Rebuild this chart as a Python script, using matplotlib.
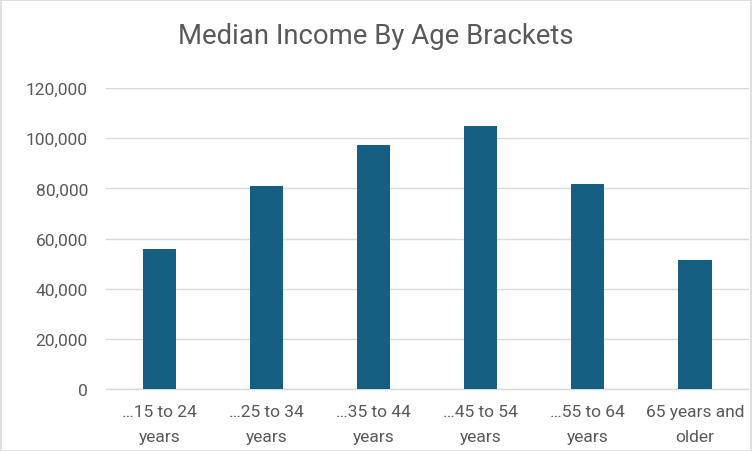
import matplotlib.pyplot as plt
from matplotlib.ticker import FuncFormatter
from matplotlib.patches import Rectangle

plt.rcParams['font.family'] = ['Roboto', 'DejaVu Sans']

categories = ['\u202615 to 24\nyears', '\u202625 to 34\nyears', '\u202635 to 44\nyears',
              '\u202645 to 54\nyears', '\u202655 to 64\nyears', '65 years and\nolder']
income = [55800, 80900, 97300, 104800, 81700, 51400]

text_color = '#595959'
line_color = '#D9D9D9'

fig = plt.figure(figsize=(7.52, 4.52), dpi=100)
ax = fig.add_axes([106 / 752, 62 / 452, 642.5 / 752, 301 / 452])

xs = list(range(len(categories)))
ax.bar(xs, income, width=0.31, color='#156082', zorder=3)

ax.set_xlim(-0.5, len(categories) - 0.5)
ax.set_ylim(0, 120000)
ax.set_yticks(range(0, 120001, 20000))
ax.yaxis.set_major_formatter(FuncFormatter(lambda v, p: f'{int(v):,}'))
ax.set_xticks(xs)
ax.set_xticklabels(categories, linespacing=1.8)

ax.grid(axis='y', color=line_color, linewidth=1.0, zorder=0)
for s in ['top', 'right', 'left']:
    ax.spines[s].set_visible(False)
ax.spines['bottom'].set_color(line_color)
ax.spines['bottom'].set_linewidth(1.0)
ax.tick_params(axis='both', length=0, colors=text_color, labelsize=12.5)
ax.tick_params(axis='y', pad=13)
ax.tick_params(axis='x', pad=11)

fig.text(0.5, 1 - 37 / 452, 'Median Income By Age Brackets', ha='center', va='center',
         fontsize=19.8, color=text_color)

# outer chart border
fig.patches.append(Rectangle((0.5 / 752, 0.5 / 452), 750.5 / 752, 450.5 / 452,
                             transform=fig.transFigure, fill=False,
                             edgecolor=line_color, linewidth=1.2))

fig.savefig('out.png', dpi=100)
